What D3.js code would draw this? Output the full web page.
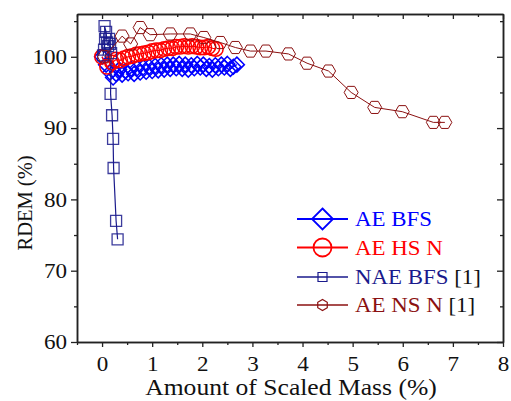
<!DOCTYPE html>
<html>
<head>
<meta charset="utf-8">
<script src="https://cdn.jsdelivr.net/npm/d3@7"></script>
<style>
  html, body { margin: 0; padding: 0; background: #fff; }
  svg { display: block; }
</style>
</head>
<body>
<svg id="chart" width="511" height="401"></svg>
<script>
// Series data: amount of scaled mass (%) vs RDEM (%)
const aeBfsX = [0.00, 0.08, 0.16, 0.22, 0.28, 0.34, 0.40, 0.46, 0.52, 0.58, 0.64, 0.70, 0.76, 0.82, 0.88, 0.94, 1.00, 1.06, 1.12, 1.18, 1.24, 1.30, 1.36, 1.42, 1.48, 1.54, 1.60, 1.66, 1.72, 1.78, 1.84, 1.90, 1.96, 2.02, 2.08, 2.14, 2.20, 2.26, 2.32, 2.38, 2.44, 2.50, 2.56, 2.62, 2.69];
const aeBfsY = [100.0, 98.9, 97.8, 97.1, 97.6, 98.2, 97.5, 98.0, 97.7, 98.3, 97.6, 98.4, 97.8, 98.5, 97.9, 98.6, 98.0, 98.7, 98.1, 98.8, 98.2, 98.9, 98.3, 98.9, 98.4, 99.0, 98.3, 98.9, 98.2, 98.8, 98.4, 99.0, 98.5, 98.9, 98.3, 98.7, 98.2, 98.8, 98.4, 98.9, 98.5, 99.0, 98.3, 98.6, 98.9];

const aeHsnX = [0.00, 0.10, 0.20, 0.28, 0.36, 0.44, 0.52, 0.60, 0.68, 0.76, 0.84, 0.92, 1.00, 1.08, 1.16, 1.24, 1.32, 1.40, 1.48, 1.56, 1.64, 1.72, 1.80, 1.88, 1.96, 2.04, 2.12, 2.20, 2.27];
const aeHsnY = [100.0, 98.6, 99.2, 99.6, 99.5, 99.8, 100.0, 100.1, 100.3, 100.4, 100.5, 100.6, 100.8, 100.9, 100.9, 101.1, 101.2, 101.2, 101.4, 101.4, 101.5, 101.4, 101.5, 101.4, 101.3, 101.3, 101.4, 101.2, 101.1];

const naeBfsX = [0.02, 0.04, 0.06, 0.05, 0.08, 0.10, 0.12, 0.14, 0.16, 0.18, 0.17, 0.20, 0.22, 0.23, 0.28, 0.31];
const naeBfsY = [100.2, 101.0, 102.5, 104.3, 103.5, 102.0, 101.5, 102.5, 101.8, 100.5, 94.8, 91.8, 88.5, 84.4, 77.0, 74.4];

const aeNsnX = [0.05, 0.40, 0.57, 0.76, 0.96, 1.36, 1.76, 2.03, 2.36, 2.66, 2.96, 3.27, 3.72, 4.09, 4.52, 4.97, 5.44, 5.99, 6.61, 6.84];
const aeNsnY = [100.0, 102.9, 101.8, 104.1, 103.1, 103.2, 103.2, 102.7, 102.0, 101.3, 100.8, 100.8, 100.4, 99.1, 98.0, 95.0, 92.9, 92.3, 90.8, 90.8];

const xTicks = [0, 1, 2, 3, 4, 5, 6, 7, 8];
const xMinorTicks = [-0.5, 0.5, 1.5, 2.5, 3.5, 4.5, 5.5, 6.5, 7.5];
const yTicks = [60, 70, 80, 90, 100];
const yMinorTicks = [65, 75, 85, 95, 105];

const legendNames = ["AE BFS", "AE HS N", "NAE BFS", "AE NS N"];
const legendRefs = ["", "", " [1]", " [1]"];

const FONT = '"Liberation Serif", "Times New Roman", serif';
// Text is set slightly wide to fill the figure's proportions
const WIDE = 1.1;

const svg = d3.select("#chart");
const L = 77, R = 503, T = 14, B = 342;

const x = d3.scaleLinear().domain([-0.5, 8]).range([L, R]);
const y = d3.scaleLinear().domain([60, 106]).range([B, T]);

const axisColor = "#222";

// Symbol path builders
const diamond = (s) => `M0,${-s}L${s},0L0,${s}L${-s},0Z`;
const square = (s) => `M${-s},${-s}H${s}V${s}H${-s}Z`;
const hexagon = (r, rot) => {
  const p = d3.range(6).map(i => {
    const a = Math.PI / 3 * i + rot;
    return [r * Math.cos(a), r * Math.sin(a)];
  });
  return "M" + p.map(d => d.join(",")).join("L") + "Z";
};

const series = [
  { xs: aeBfsX, ys: aeBfsY, color: "#0000ff", sym: "diamond", size: 7.5, sw: 1.5, lw: 1.2 },
  { xs: aeHsnX, ys: aeHsnY, color: "#ff0000", sym: "circle", size: 7.3, sw: 1.5, lw: 1.2 },
  { xs: naeBfsX, ys: naeBfsY, color: "#1a1a8c", sym: "square", size: 5.5, sw: 1.3, lw: 1.2 },
  { xs: aeNsnX, ys: aeNsnY, color: "#8b1111", sym: "hex", size: 7, sw: 1, lw: 1 }
];

const plot = svg.append("g");

series.forEach(s => {
  const pts = s.xs.map((v, i) => [v, s.ys[i]]);
  plot.append("path")
    .attr("d", d3.line().x(d => x(d[0])).y(d => y(d[1]))(pts))
    .attr("fill", "none")
    .attr("stroke", s.color)
    .attr("stroke-width", s.lw);
  const g = plot.append("g");
  pts.forEach(d => {
    const cx = x(d[0]), cy = y(d[1]);
    let el;
    if (s.sym === "circle") {
      el = g.append("circle").attr("cx", cx).attr("cy", cy).attr("r", s.size);
    } else {
      const path = s.sym === "diamond" ? diamond(s.size)
        : s.sym === "square" ? square(s.size) : hexagon(s.size, 0);
      el = g.append("path").attr("d", path).attr("transform", `translate(${cx},${cy})`);
    }
    el.attr("fill", "none").attr("stroke", s.color).attr("stroke-width", s.sw)
      .attr("stroke-opacity", s.sym === "square" ? 0.85 : 1);
  });
});

// Axes: outward ticks on bottom/left, inward on top/right
function styleAxis(g) {
  g.attr("font-family", FONT).attr("font-size", 21);
  g.selectAll("path.domain").attr("stroke", axisColor).attr("stroke-width", 1.5);
  g.selectAll(".tick line").attr("stroke", axisColor).attr("stroke-width", 1.3);
  g.selectAll("text").attr("fill", "#111").attr("transform", `scale(${WIDE},1)`);
}

svg.append("g").attr("transform", `translate(0,${B})`)
  .call(d3.axisBottom(x).tickValues(xMinorTicks).tickSize(3).tickFormat("").tickSizeOuter(0))
  .call(styleAxis);
svg.append("g").attr("transform", `translate(0,${B})`)
  .call(d3.axisBottom(x).tickValues(xTicks).tickSize(5).tickPadding(9).tickFormat(d3.format("d")).tickSizeOuter(0))
  .call(styleAxis);

svg.append("g").attr("transform", `translate(0,${T})`)
  .call(d3.axisTop(x).tickValues(xMinorTicks).tickSize(-3).tickFormat("").tickSizeOuter(0))
  .call(styleAxis);
svg.append("g").attr("transform", `translate(0,${T})`)
  .call(d3.axisTop(x).tickValues(xTicks).tickSize(-5).tickFormat("").tickSizeOuter(0))
  .call(styleAxis);

svg.append("g").attr("transform", `translate(${L},0)`)
  .call(d3.axisLeft(y).tickValues(yMinorTicks).tickSize(3).tickFormat("").tickSizeOuter(0))
  .call(styleAxis);
svg.append("g").attr("transform", `translate(${L},0)`)
  .call(d3.axisLeft(y).tickValues(yTicks).tickSize(6).tickPadding(3).tickFormat(d3.format("d")).tickSizeOuter(0))
  .call(styleAxis);

svg.append("g").attr("transform", `translate(${R},0)`)
  .call(d3.axisRight(y).tickValues(yMinorTicks).tickSize(-3).tickFormat("").tickSizeOuter(0))
  .call(styleAxis);
svg.append("g").attr("transform", `translate(${R},0)`)
  .call(d3.axisRight(y).tickValues(yTicks).tickSize(-6).tickFormat("").tickSizeOuter(0))
  .call(styleAxis);

// Axis titles
svg.append("text")
  .attr("transform", `translate(291,395) scale(1.09,1)`)
  .attr("text-anchor", "middle")
  .attr("font-family", FONT).attr("font-size", 23.5).attr("fill", "#111")
  .text("Amount of Scaled Mass (%)");

svg.append("text")
  .attr("transform", "translate(32,203) rotate(-90)")
  .attr("text-anchor", "middle")
  .attr("font-family", FONT).attr("font-size", 20.5).attr("fill", "#111")
  .text("RDEM (%)");

// Legend
const legRowY = [219, 247.5, 277, 305];
const leg = svg.append("g");
series.forEach((s, i) => {
  const ly = legRowY[i];
  leg.append("line").attr("x1", 297).attr("x2", 348).attr("y1", ly).attr("y2", ly)
    .attr("stroke", s.color).attr("stroke-width", i < 2 ? 1.8 : 1.3);
  const cx = 322.5;
  if (s.sym === "circle") {
    leg.append("circle").attr("cx", cx).attr("cy", ly).attr("r", 9)
      .attr("fill", "none").attr("stroke", s.color).attr("stroke-width", 1.8);
  } else {
    const path = s.sym === "diamond" ? diamond(10.5)
      : s.sym === "square" ? square(4.5) : hexagon(5.5, Math.PI / 6);
    leg.append("path").attr("d", path).attr("transform", `translate(${cx},${ly})`)
      .attr("fill", "none").attr("stroke", s.color).attr("stroke-width", s.sym === "diamond" ? 1.8 : 1.2);
  }
  const t = leg.append("text").attr("transform", `translate(355,${ly + 7}) scale(1.04,1)`)
    .attr("font-family", FONT).attr("font-size", 22);
  t.append("tspan").attr("fill", s.color).text(legendNames[i]);
  if (legendRefs[i]) t.append("tspan").attr("fill", "#111").text(legendRefs[i]);
});
</script>
</body>
</html>
